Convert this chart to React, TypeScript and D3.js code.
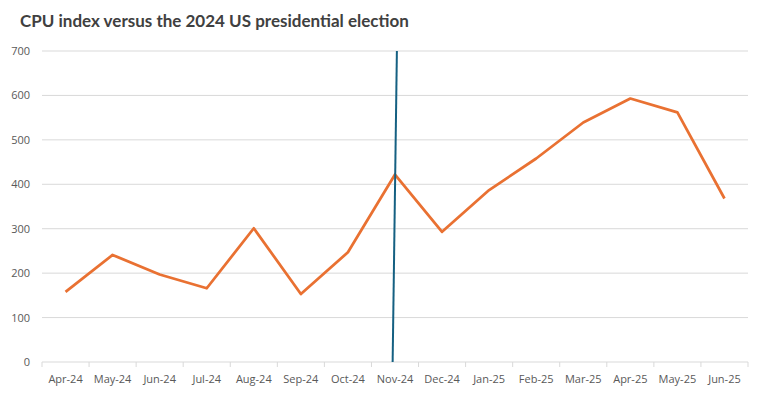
import React, { useEffect, useRef } from "react";
import * as d3 from "d3";

const months = [
  "Apr-24", "May-24", "Jun-24", "Jul-24", "Aug-24", "Sep-24", "Oct-24", "Nov-24",
  "Dec-24", "Jan-25", "Feb-25", "Mar-25", "Apr-25", "May-25", "Jun-25",
];
const cpuIndex = [158, 241, 197, 166, 301, 153, 247, 422, 293, 387, 458, 539, 593, 562, 368];
// election marker: position along the category axis (index units) and value
const electionPos = [6.95, 7.04];
const electionVal = [0, 700];
const yTicks = [0, 100, 200, 300, 400, 500, 600, 700];

const App = () => {
  const ref = useRef<SVGSVGElement>(null);

  useEffect(() => {
    const width = 762;
    const height = 395;
    const m = { top: 51, right: 14, bottom: 33, left: 42 };
    const svg = d3.select(ref.current);
    svg.selectAll("*").remove();

    const x = d3.scaleLinear().domain([-0.5, months.length - 0.5]).range([m.left, width - m.right]);
    const y = d3.scaleLinear().domain([0, 700]).range([height - m.bottom, m.top]);

    svg.append("rect").attr("width", width).attr("height", height).attr("fill", "#fff");

    svg
      .append("text")
      .attr("x", 20)
      .attr("y", 27)
      .attr("font-family", "Lato, sans-serif")
      .attr("font-weight", "bold")
      .attr("font-size", 17)
      .attr("fill", "#404040")
      .text("CPU index versus the 2024 US presidential election");

    // gridlines
    svg
      .append("g")
      .selectAll("line")
      .data(yTicks.filter((t) => t > 0))
      .enter()
      .append("line")
      .attr("x1", m.left)
      .attr("x2", width - m.right)
      .attr("y1", (d) => y(d))
      .attr("y2", (d) => y(d))
      .attr("stroke", "#d9d9d9")
      .attr("stroke-width", 1);

    svg
      .append("g")
      .selectAll("text")
      .data(yTicks)
      .enter()
      .append("text")
      .attr("x", 30)
      .attr("y", (d) => y(d) + 4)
      .attr("text-anchor", "end")
      .attr("font-family", "'Open Sans', sans-serif")
      .attr("font-size", 11)
      .attr("fill", "#595959")
      .text((d) => d);

    // category axis
    const axis = svg.append("g");
    axis
      .append("line")
      .attr("x1", m.left)
      .attr("x2", width - m.right)
      .attr("y1", y(0))
      .attr("y2", y(0))
      .attr("stroke", "#d9d9d9");
    axis
      .selectAll("line.tick")
      .data(d3.range(months.length + 1))
      .enter()
      .append("line")
      .attr("class", "tick")
      .attr("x1", (i) => x(i - 0.5))
      .attr("x2", (i) => x(i - 0.5))
      .attr("y1", y(0))
      .attr("y2", y(0) + 5)
      .attr("stroke", "#d9d9d9");
    axis
      .selectAll("text")
      .data(months)
      .enter()
      .append("text")
      .attr("x", (_, i) => x(i))
      .attr("y", y(0) + 21)
      .attr("text-anchor", "middle")
      .attr("font-family", "'Open Sans', sans-serif")
      .attr("font-size", 11)
      .attr("fill", "#595959")
      .text((d) => d);

    const line = d3
      .line<number>()
      .x((_, i) => x(i))
      .y((d) => y(d));

    svg
      .append("path")
      .datum(cpuIndex)
      .attr("d", line)
      .attr("fill", "none")
      .attr("stroke", "#E97132")
      .attr("stroke-width", 2.75)
      .attr("stroke-linejoin", "round");

    const elecLine = d3
      .line<number>()
      .x((d) => x(d))
      .y((_, i) => y(electionVal[i]));

    svg
      .append("path")
      .datum(electionPos)
      .attr("d", elecLine)
      .attr("fill", "none")
      .attr("stroke", "#156082")
      .attr("stroke-width", 2);
  }, []);

  return <svg ref={ref} width={762} height={395} style={{ display: "block", margin: -8 }} />;
};

export default App;
